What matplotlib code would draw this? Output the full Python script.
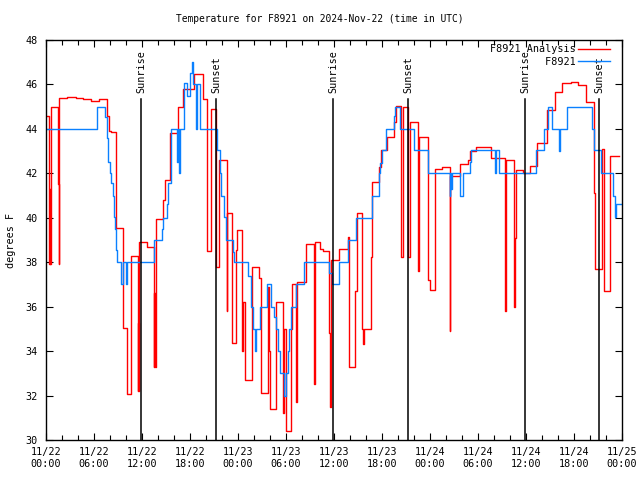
import pandas as pd
import matplotlib
matplotlib.use('Agg')
import matplotlib.pyplot as plt
import matplotlib.dates as mdates
import matplotlib.transforms as mtransforms

START = pd.Timestamp('2024-11-22 00:00')
END = pd.Timestamp('2024-11-25 00:00')

# station F8921, analysis values (hours after start, deg F), step style
analysis_hours = [0.08, 0.42, 0.5, 0.55, 0.67, 1.55, 1.6, 1.67, 2.67, 3.7, 4.67, 5.67, 6.6,
                  7.67, 7.9, 8.1, 8.7, 9.67, 10.17, 10.67, 11.5, 11.55, 11.6, 11.67, 12.67,
                  13.5, 13.55, 13.6, 13.7, 13.8, 14.6, 14.9, 15.5, 15.7, 16.5, 16.7, 17.1,
                  18.5, 19.6, 20.1, 20.65, 21.25, 21.6, 22.6, 22.65, 23.2, 23.75, 23.85,
                  24.5, 24.55, 24.6, 24.9, 25.75, 26.67, 26.9, 27.7, 27.85, 28.0, 28.75,
                  29.6, 29.75, 30.0, 30.6, 30.7, 31.3, 31.4, 32.5, 33.5, 33.6, 34.2, 34.6,
                  35.35, 35.5, 35.6, 36.67, 37.75, 37.85, 38.67, 38.9, 39.5, 39.6, 39.7,
                  40.67, 40.8, 41.6, 41.9, 42.6, 43.45, 43.7, 44.4, 44.6, 45.25, 45.5,
                  46.5, 46.67, 47.8, 47.96, 48.6, 48.67, 49.5, 50.45, 50.55, 51.7, 52.7,
                  53.0, 53.7, 54.6, 55.6, 57.4, 57.5, 58.5, 58.6, 58.7, 59.6, 60.5, 61.4,
                  62.6, 63.6, 64.5, 65.6, 66.5, 67.5, 68.5, 68.6, 69.55, 69.75, 70.5, 71.6]
analysis_temps = [44.6, 37.9, 41.3, 37.9, 45.0, 41.5, 37.9, 45.37, 45.45, 45.37, 45.33, 45.27,
                  45.33, 44.58, 43.9, 43.85, 39.55, 35.05, 32.05, 38.3, 32.2, 35.25, 32.2,
                  38.9, 38.67, 33.3, 36.6, 33.3, 36.6, 39.93, 40.8, 41.7, 43.8, 43.8, 45.0,
                  45.0, 45.8, 46.47, 45.33, 38.5, 44.88, 37.8, 42.6, 35.8, 40.2, 34.35,
                  38.55, 39.45, 38.6, 34.0, 36.2, 32.7, 37.8, 37.3, 32.1, 36.9, 34.0, 31.4,
                  36.2, 31.2, 35.0, 30.4, 35.0, 37.0, 31.7, 37.1, 38.8, 32.5, 38.9, 38.6,
                  38.5, 34.8, 31.5, 38.1, 38.6, 39.15, 33.3, 36.7, 40.2, 35.0, 34.3, 35.0,
                  38.25, 41.6, 42.3, 43.05, 43.65, 44.3, 45.05, 38.25, 45.0, 38.25, 44.3,
                  37.6, 43.65, 37.2, 36.75, 39.5, 42.2, 42.3, 34.9, 41.9, 42.4, 42.6, 43.0,
                  43.2, 43.17, 42.7, 35.8, 42.6, 36.0, 39.1, 42.15, 42.0, 42.33, 43.35,
                  44.85, 45.67, 46.05, 46.1, 45.98, 45.2, 41.1, 37.7, 43.1, 36.7, 42.8, 42.8]

# station F8921, observed values
obs_hours = [0.0, 6.4, 7.4, 7.6, 7.75, 7.95, 8.15, 8.35, 8.5, 8.6, 8.7, 8.8, 8.9, 9.4, 9.6,
             9.95, 10.1, 13.5, 14.45, 14.6, 15.1, 15.3, 15.6, 15.9, 16.35, 16.45, 16.6,
             16.7, 17.25, 17.6, 18.0, 18.3, 18.4, 18.8, 18.9, 19.25, 21.35, 21.7, 21.9,
             22.2, 22.55, 23.4, 23.5, 25.3, 25.6, 25.9, 26.15, 26.3, 26.75, 27.6, 28.1,
             28.5, 28.75, 28.95, 29.3, 29.8, 30.0, 30.2, 30.4, 30.6, 31.25, 32.3, 35.4,
             35.7, 36.6, 37.75, 38.7, 40.75, 41.6, 41.8, 42.0, 42.5, 43.45, 43.6, 44.2,
             46.0, 47.8, 50.45, 50.55, 50.65, 50.75, 51.7, 52.1, 53.0, 53.1, 56.1, 56.2,
             56.6, 61.3, 62.2, 62.7, 63.3, 64.1, 64.25, 65.1, 68.3, 68.5, 69.4, 70.9,
             71.1, 71.3, 72.0]
obs_temps = [44.0, 45.0, 44.55, 43.6, 42.5, 42.0, 41.55, 41.0, 40.05, 39.5, 39.0, 38.55,
             38.0, 37.0, 38.0, 37.0, 38.0, 39.0, 39.5, 40.0, 40.6, 41.55, 44.0, 44.0, 42.5,
             44.0, 42.0, 44.0, 46.05, 45.5, 46.5, 47.0, 46.0, 44.0, 46.0, 44.0, 43.05, 42.0,
             41.0, 40.05, 39.0, 38.47, 38.0, 37.4, 36.0, 35.0, 34.0, 35.0, 36.0, 37.0,
             36.0, 35.55, 35.0, 34.0, 33.0, 32.0, 33.0, 34.0, 35.0, 36.0, 37.0, 38.0, 37.5,
             37.0, 38.0, 39.0, 40.0, 41.0, 42.0, 42.45, 43.05, 44.0, 44.6, 45.0, 44.0,
             43.05, 42.0, 41.0, 42.0, 41.3, 42.0, 41.0, 42.0, 42.5, 43.05, 42.0, 43.05,
             42.0, 43.05, 44.0, 45.0, 44.0, 43.0, 44.0, 45.0, 44.0, 43.05, 42.0, 41.0,
             40.05, 40.6, 40.6]

sun_labels = ['Sunrise', 'Sunset', 'Sunrise', 'Sunset', 'Sunrise', 'Sunset']
sun_times = ['2024-11-22 11:52', '2024-11-22 21:15', '2024-11-23 11:55',
             '2024-11-23 21:17', '2024-11-24 11:53', '2024-11-24 21:11']

series_names = ['F8921 Analysis', 'F8921']

plt.rcParams['font.family'] = 'DejaVu Sans Mono'
plt.rcParams['font.size'] = 7.3

fig = plt.figure(figsize=(6.4, 4.8), dpi=100)
ax = fig.add_axes([46 / 640, 40 / 480, 576 / 640, 400 / 480])

# monospace font, so padding with spaces right-aligns the legend text like gnuplot
width = max(len(n) for n in series_names)
a_t = START + pd.to_timedelta(analysis_hours, unit='h')
o_t = START + pd.to_timedelta(obs_hours, unit='h')
ax.plot(a_t, analysis_temps, drawstyle='steps-post', color='#ff0000', lw=1.0,
        label=series_names[0].rjust(width))
ax.plot(o_t, obs_temps, drawstyle='steps-post', color='#0a80ff', lw=1.0,
        label=series_names[1].rjust(width))

trans = mtransforms.blended_transform_factory(ax.transData, ax.transAxes)
for lab, t in zip(sun_labels, sun_times):
    t = pd.Timestamp(t)
    ax.axvline(t, ymin=0, ymax=0.8525, color='black', lw=1.1)
    ax.text(t, 0.868, lab, transform=trans, rotation=90, ha='center', va='bottom')

ax.set_xlim(START, END)
ax.set_ylim(30, 48)
ax.set_yticks(range(30, 49, 2))
ax.xaxis.set_major_locator(mdates.HourLocator(byhour=[0, 6, 12, 18]))
ax.xaxis.set_minor_locator(mdates.HourLocator(interval=2))
ax.xaxis.set_major_formatter(mdates.DateFormatter('%m/%d\n%H:%M'))
ax.tick_params(which='both', direction='in', top=True, right=True, width=0.8)
ax.tick_params(which='major', length=5)
ax.tick_params(which='minor', length=3.5)
ax.tick_params(axis='x', pad=5)
ax.tick_params(axis='y', pad=6)
for s in ax.spines.values():
    s.set_linewidth(1.0)

ax.set_ylabel('degrees F')
ax.yaxis.set_label_coords(-0.052, 0.5)
fig.text(0.5, 1 - 19 / 480, 'Temperature for F8921 on 2024-Nov-22 (time in UTC)',
         ha='center', va='center', fontsize=6.9)

ax.legend(loc='upper right', bbox_to_anchor=(0.986, 1.0), frameon=False,
          markerfirst=False, handlelength=3.1, handletextpad=0.3, labelspacing=0.28,
          borderaxespad=0.1, borderpad=0.3)

fig.savefig('out.png', dpi=100)
